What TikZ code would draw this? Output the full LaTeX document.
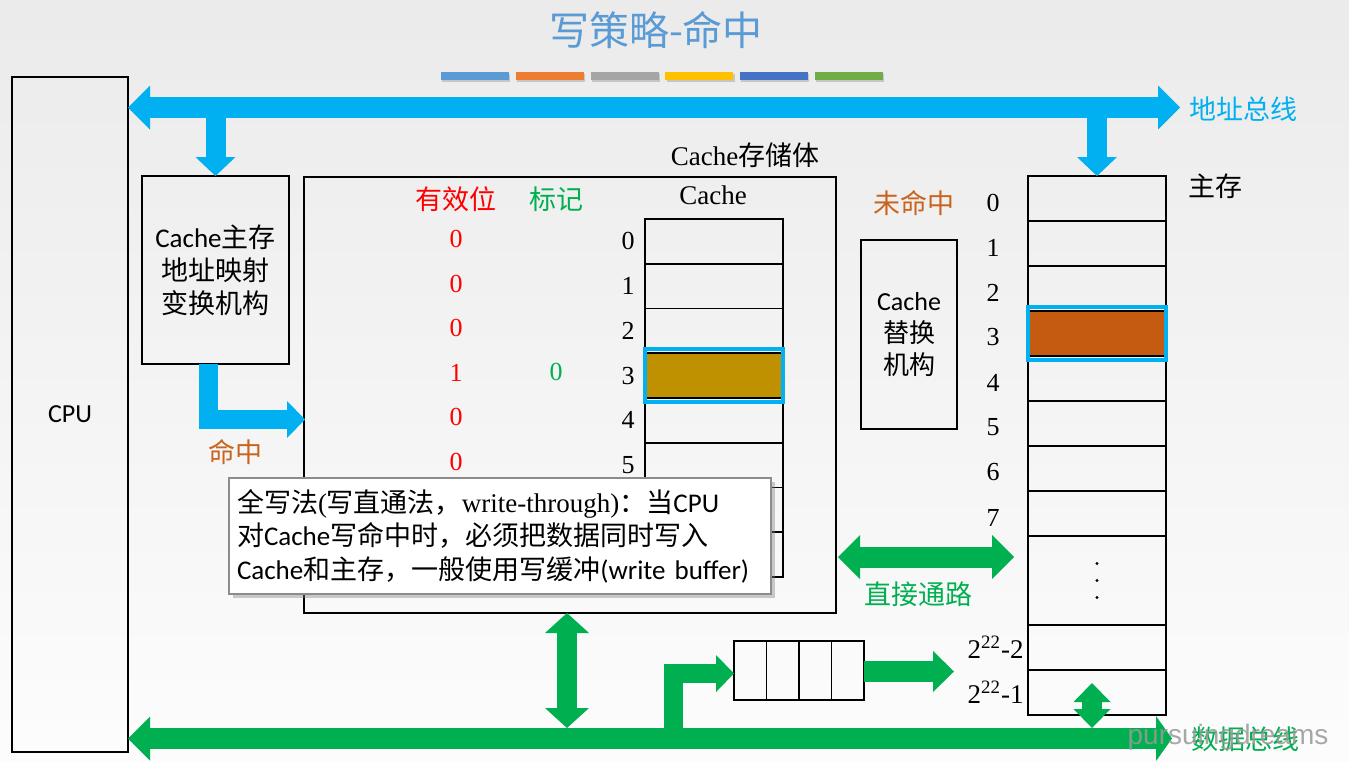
\documentclass[tikz,border=0pt]{standalone}
\usepackage{fontspec}
\setmainfont{Liberation Serif}
\newfontfamily\cjk{Noto Sans CJK SC}
\newfontfamily\lat{Carlito}
\newfontfamily\wmfont{Liberation Sans}
\usetikzlibrary{arrows.meta, positioning, shadows, fit}

\tikzset{
  box/.style={draw, line width=0.9pt, inner sep=0pt, outer sep=0pt},
  cell/.style={box, minimum width=69pt},
  lbl/.style={font=\fontsize{13}{15}\selectfont, inner sep=0pt},
  zh/.style={font=\fontsize{13.5}{16}\selectfont\cjk, inner sep=0pt},
  hilite/.style={draw=busblue, line width=2pt, inner xsep=0pt, inner ysep=2pt},
  abus/.style={draw=busblue, line width=10.5pt},
  dbus/.style={draw=datagreen, line width=10.5pt},
  bighead/.tip={Triangle[length=11pt,width=22pt,line width=0pt]},
  flathead/.tip={Triangle[length=8pt,width=22.5pt,line width=0pt]},
  downhead/.tip={Triangle[length=9.5pt,width=20pt,line width=0pt]},
  hithead/.tip={Triangle[length=9pt,width=18.5pt,line width=0pt]},
  vhead/.tip={Triangle[length=10pt,width=22pt,line width=0pt]},
  mhead/.tip={Triangle[length=9.5pt,width=18.5pt,line width=0pt]},
}

\begin{document}
\begin{tikzpicture}[x=0.5pt, y=-0.5pt]
  \definecolor{busblue}{RGB}{0,176,240}
  \definecolor{datagreen}{RGB}{0,176,80}
  \definecolor{titleblue}{RGB}{91,155,213}
  \definecolor{barorange}{RGB}{237,125,49}
  \definecolor{bargray}{RGB}{165,165,165}
  \definecolor{baryellow}{RGB}{255,192,0}
  \definecolor{bardblue}{RGB}{68,114,196}
  \definecolor{bargreen}{RGB}{112,173,71}
  \definecolor{hitorange}{RGB}{200,100,30}
  \definecolor{gold}{RGB}{191,144,0}
  \definecolor{rust}{RGB}{197,90,17}

  % background
  \shade[top color=black!8, bottom color=black!1] (0,0) rectangle (1349,761);
  \useasboundingbox (0,0) rectangle (1349,761);

  \node[font=\fontsize{20}{24}\selectfont\cjk, text=titleblue] (title) at (656,30) {写策略-命中};
  \foreach \c [count=\k from 0] in {titleblue, barorange, bargray, baryellow, bardblue, bargreen}
    \fill[\c, drop shadow={shadow xshift=0.6pt, shadow yshift=-1pt, opacity=0.35}] (441+74.8*\k,72) rectangle ++(68,8);

  % cpu and mapping unit
  \node[box, minimum width=58pt, minimum height=337.5pt, font=\fontsize{13}{15}\selectfont\lat] (cpu) at (70,414.5) {CPU};
  \node[box, minimum width=73.5pt, minimum height=94pt, align=center, font=\fontsize{13.5}{16.5}\selectfont\cjk] (map) at (215.5,270) {{\lat Cache}主存\\地址映射\\变换机构};

  % cache
  \node[box, minimum width=266pt, minimum height=218pt] (store) at (570,395) {};
  \node[lbl, font=\fontsize{13.5}{16}\selectfont] (storelbl) at (745,155) {Cache{\cjk 存储体}};
  \node[zh, text=red] (vhead) at (456,199) {有效位};
  \node[zh, text=datagreen] (thead) at (556,199) {标记};
  \node[lbl, font=\fontsize{13.5}{16}\selectfont] (chead) at (713,195) {Cache};
  \foreach \i/\f in {0/none,1/none,2/none,3/gold,4/none,5/none,6/none,7/none}
    \node[cell, minimum height=22.375pt, fill=\f] (c\i) at (714,241.375+44.75*\i) {};
  \foreach \i/\v in {0/0,1/0,2/0,3/1,4/0,5/0} {
    \node[lbl, left=5pt of c\i] (ci\i) {\i};
    \node[lbl, text=red] (v\i) at (456,239+44.6*\i) {\v};
  }
  \node[lbl, text=datagreen] (t3) at (556,372) {0};
  \node[hilite, fit=(c3)] (c3hl) {};

  % replacement unit
  \node[zh, text=hitorange] (miss) at (914,203) {未命中};
  \node[box, minimum width=48pt, minimum height=94.5pt, align=center, font=\fontsize{13}{16}\selectfont\cjk] (repl) at (909,334.5) {{\lat Cache}\\替换\\机构};

  % main memory
  \foreach \i/\f in {0/none,1/none,2/none,3/rust,4/none,5/none,6/none,7/none} {
    \node[cell, minimum height=22.5pt, fill=\f] (m\i) at (1097,198.5+45*\i) {};
    \node[lbl, left=14pt of m\i, yshift=-2pt] (mi\i) {\i};
  }
  \node[cell, minimum height=44.5pt, below=0pt of m7] (mdots) {};
  \foreach \d in {0,1,2}
    \fill ([yshift=8.5pt-8.5pt*\d]mdots.center) circle (0.8pt);
  \node[cell, minimum height=22.5pt, below=0pt of mdots] (m8) {};
  \node[cell, minimum height=22.5pt, below=0pt of m8] (m9) {};
  \node[lbl, font=\fontsize{13.5}{16}\selectfont, left=2pt of m8] (mi8) {2\textsuperscript{22}-2};
  \node[lbl, font=\fontsize{13.5}{16}\selectfont, left=2pt of m9] (mi9) {2\textsuperscript{22}-1};
  \node[hilite, fit=(m3)] (m3hl) {};
  \node[zh, font=\fontsize{13.5}{16}\selectfont\cjk] (memlbl) at (1215,186) {主存};

  % address bus
  \coordinate (abL) at (128,107.5);
  \coordinate (abR) at (1180,107.5);
  \draw[abus, bighead-bighead] (abL) -- (abR);
  \draw[abus, line width=10pt, -downhead] (map.north |- abL) -- (map.north);
  \draw[abus, line width=10pt, -downhead] (m0.north |- abL) -- (m0.north);
  \node[zh, text=busblue] (ablbl) at (1243,109) {地址总线};

  % hit path
  \coordinate (hitS) at (208.5,364);
  \coordinate (hitE) at (305,419.5);
  \draw[abus, line width=9.5pt, -hithead] (hitS) |- (hitE);
  \node[zh, text=hitorange] (hitlbl) at (235,452) {命中};

  % direct path
  \coordinate (dpL) at (838,557);
  \coordinate (dpR) at (1014,557);
  \draw[dbus, bighead-bighead] (dpL) -- (dpR);
  \node[zh, text=datagreen] (dplbl) at (918,594) {直接通路};

  % write buffer
  \node[cell, minimum width=16.25pt, minimum height=29.5pt] (b1) at (750.25,670.5) {};
  \foreach \i [remember=\i as \j (initially 1)] in {2,3,4}
    \node[cell, minimum width=16.25pt, minimum height=29.5pt, right=0pt of b\j] (b\i) {};
  \coordinate (wbS) at (673,729);
  \coordinate (wbT) at (954,671.5);
  \draw[dbus, line width=9.5pt, -hithead] (wbS) |- ([yshift=-1.5pt]b1.west);
  \draw[dbus, -{Triangle[length=10.5pt,width=20.5pt,line width=0pt]}] (b4.east |- wbT) -- (wbT);

  % data bus
  \coordinate (dbL) at (128,738.5);
  \coordinate (dbR) at (1172,738.5);
  \coordinate (cb) at (567,728);
  \coordinate (mbT) at (1092,683);
  \coordinate (mbB) at (1092,728);
  \draw[dbus, bighead-flathead] (dbL) -- (dbR);
  \draw[dbus, line width=10pt, vhead-vhead] (store.south -| cb) -- (cb);
  \draw[dbus, line width=10pt, mhead-mhead] (mbT) -- (mbB);
  \node[zh, text=datagreen] (dblbl) at (1245,739) {数据总线};
  \node[font=\fontsize{14}{16}\selectfont\wmfont, text=black!40, opacity=0.85] (wm) at (1228,737) {pursuingdreams};

  % note
  \node[draw=black!45, line width=1.2pt, fill=white, drop shadow={shadow xshift=2pt, shadow yshift=-2pt, opacity=0.4},
        minimum width=271pt, minimum height=58pt, inner xsep=4pt, text width=263pt, align=left,
        font=\fontsize{13.5}{16.75}\selectfont\lat] (note) at (500,536)
    {{\rmfamily{\cjk 全写法}({\cjk 写直通法，}write-through){\cjk ：}}{\cjk 当}CPU\\
     {\cjk 对}Cache{\cjk 写命中时，必须把数据同时写入}\\
     Cache{\cjk 和主存，一般使用写缓冲}(write buffer)};
\end{tikzpicture}
\end{document}
